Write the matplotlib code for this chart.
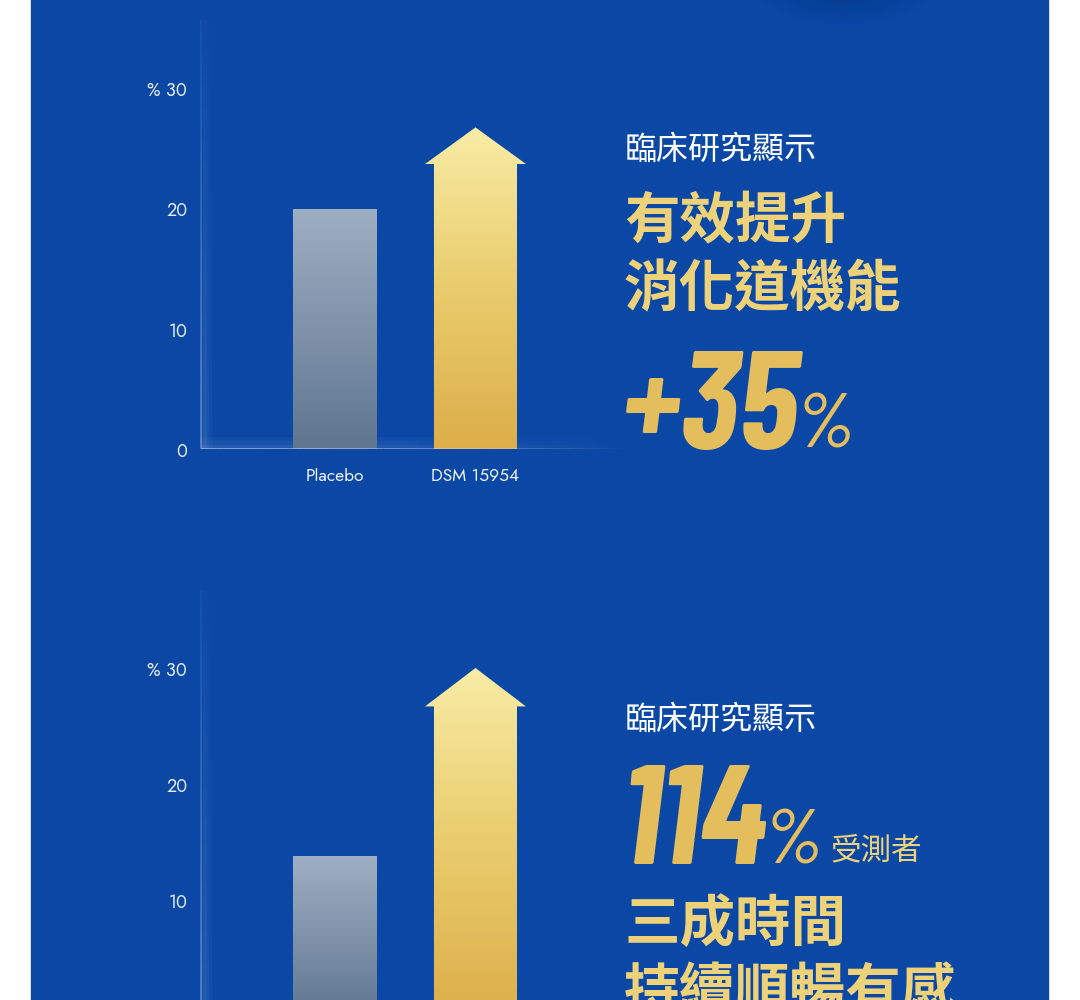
import numpy as np
import matplotlib.pyplot as plt
from matplotlib.patches import Rectangle, Polygon, Ellipse
from matplotlib.colors import LinearSegmentedColormap
from matplotlib.collections import LineCollection

plt.rcParams['font.family'] = ['Noto Sans CJK TC', 'DejaVu Sans']

# ---------------------------------------------------------------------------
# Daten
# ---------------------------------------------------------------------------
categories = ['Placebo', 'DSM 15954']
chart1_placebo = 20.0
chart1_dsm = 23.75      # Pfeilschaft
chart1_dsm_tip = 26.8   # Pfeilspitze
chart2_placebo = 13.9
chart2_dsm = 26.7
chart2_dsm_tip = 30.0
y_ticks = [0, 10, 20, 30]
y_ticklabels = ['0', '10', '20', '% 30']

BLUE = '#0b48a6'
W, H = 1080, 1000

fig = plt.figure(figsize=(W / 100, H / 100), dpi=100)
fig.patch.set_facecolor('white')

# Hintergrund-Panel (Pixelkoordinaten)
bg = fig.add_axes([0, 0, 1, 1])
bg.set_xlim(0, W)
bg.set_ylim(H, 0)
bg.axis('off')
bg.add_patch(Rectangle((31, 0), 1017, H, color=BLUE, zorder=0))
# dunkler Schatten oben rechts
for r, a in zip(np.linspace(80, 15, 12), np.linspace(0.02, 0.07, 12)):
    bg.add_patch(Ellipse((845, -8), 2.2 * r, 0.9 * r, color='#06307e', alpha=a, lw=0, zorder=1))

grey_cmap = LinearSegmentedColormap.from_list('grey', ['#5f7590', '#9fafc3'])
gold_cmap = LinearSegmentedColormap.from_list('gold', ['#dcae4a', '#e9cc6c', '#f8eca6'])

TICKFONT = ['Jost', 'Lato', 'DejaVu Sans']


def px_axes(left, top, right, bottom):
    return fig.add_axes([left / W, 1 - bottom / H, (right - left) / W, (bottom - top) / H])


def draw_chart(ax, placebo, dsm, dsm_tip, ylim, show_xlabels):
    ax.set_facecolor('none')
    for s in ax.spines.values():
        s.set_visible(False)
    ticks = [t for t in y_ticks if ylim[0] <= t <= ylim[1]]
    labels = [l for t, l in zip(y_ticks, y_ticklabels) if ylim[0] <= t <= ylim[1]]
    ax.set_yticks(ticks)
    ax.set_yticklabels(labels, family=TICKFONT)
    ax.tick_params(axis='y', length=0, pad=10, labelsize=13, labelcolor='#e6ecf7')
    if show_xlabels:
        ax.set_xticks([0, 1])
        ax.set_xticklabels(categories, family=TICKFONT)
        ax.tick_params(axis='x', length=0, pad=14, labelsize=12.5, labelcolor='#eef2fa')
    else:
        ax.set_xticks([])

    bw = 0.589
    hw = 0.716
    grad = np.linspace(0, 1, 256).reshape(-1, 1)
    # Placebo-Balken mit Verlauf
    rect = Rectangle((0 - bw / 2, 0), bw, placebo, facecolor='none', edgecolor='none')
    ax.add_patch(rect)
    im = ax.imshow(grad, cmap=grey_cmap, aspect='auto', origin='lower',
                   extent=[-bw / 2, bw / 2, 0, placebo], zorder=3)
    im.set_clip_path(rect)

    # DSM-Pfeil mit Verlauf
    arrow = Polygon([(1 - bw / 2, 0), (1 - bw / 2, dsm), (1 - hw / 2, dsm), (1, dsm_tip),
                     (1 + hw / 2, dsm), (1 + bw / 2, dsm), (1 + bw / 2, 0)],
                    closed=True, facecolor='none', edgecolor='none')
    ax.add_patch(arrow)
    im2 = ax.imshow(grad, cmap=gold_cmap, aspect='auto', origin='lower',
                    extent=[1 - hw / 2, 1 + hw / 2, 0, dsm_tip], zorder=3)
    im2.set_clip_path(arrow)
    ax.set_xlim(-0.947, 2.096)
    ax.set_ylim(*ylim)

    # Achsen mit Glanz
    x0, x1 = ax.get_xlim()
    ytop = ylim[1]
    ys = np.linspace(0, ytop, 40)
    vsegs = [[(x0, ys[i]), (x0, ys[i + 1])] for i in range(len(ys) - 1)]
    va = np.linspace(1, 0.15, len(vsegs))
    ax.add_collection(LineCollection(vsegs, colors=[(0.62, 0.72, 0.9, 0.55 * a) for a in va],
                                     linewidths=1.2, zorder=2, clip_on=False))
    for lw, a in [(10, 0.035), (6, 0.05), (3, 0.07)]:
        ax.add_collection(LineCollection([[(x0 + 0.03, ys[i]), (x0 + 0.03, ys[i + 1])]
                                          for i in range(len(ys) - 1)],
                                         colors=[(0.75, 0.82, 0.95, a * v) for v in va],
                                         linewidths=lw, zorder=2))
    xs = np.linspace(x0, x1, 60)
    segs = [[(xs[i], 0), (xs[i + 1], 0)] for i in range(len(xs) - 1)]
    alphas = np.clip(1.0 - np.linspace(0, 1, len(segs)) ** 2, 0, 1)
    ax.add_collection(LineCollection(segs, colors=[(0.82, 0.87, 0.96, 0.7 * a) for a in alphas],
                                     linewidths=1.8, zorder=4))
    for off, lw, a in [(0.45, 10, 0.04), (0.3, 6, 0.05), (0.15, 3, 0.07)]:
        gsegs = [[(xs[i], off), (xs[i + 1], off)] for i in range(len(xs) - 1)]
        ax.add_collection(LineCollection(gsegs, colors=[(0.75, 0.82, 0.95, a * v) for v in alphas],
                                         linewidths=lw, zorder=2))


# Diagramm 1
ax1 = px_axes(201, 20, 630, 449)
draw_chart(ax1, chart1_placebo, chart1_dsm, chart1_dsm_tip, (0, (449 - 20) / 12.0), True)

# Diagramm 2
ax2 = px_axes(201, 590, 630, 1000)
s2 = 11.65
draw_chart(ax2, chart2_placebo, chart2_dsm, chart2_dsm_tip,
           ((1017.5 - 1000) / s2, (1017.5 - 590) / s2), False)

# ---------------------------------------------------------------------------
# Texte
# ---------------------------------------------------------------------------
GOLD = '#eed27a'
GOLD_DARK = '#e4be5c'
NUM = ['Barlow Condensed', 'Roboto', 'DejaVu Sans']
renderer = fig.canvas.get_renderer()


def right_px(t):
    bb = t.get_window_extent(renderer=renderer)
    return bb.x1


bg.text(625, 150, '臨床研究顯示', color='white', fontsize=23, va='center', ha='left', zorder=5)
bg.text(624, 222, '有效提升', color=GOLD, fontsize=40, fontweight='bold', va='center', ha='left', zorder=5)
bg.text(624, 290, '消化道機能', color=GOLD, fontsize=40, fontweight='bold', va='center', ha='left', zorder=5)
t35 = bg.text(621, 449, '+35', color=GOLD_DARK, fontsize=100, fontweight='bold', style='italic',
              family=NUM, va='baseline', ha='left', zorder=5)
bg.text(right_px(t35) - 2, 447, '%', color=GOLD_DARK, fontsize=56, fontweight='medium', style='italic',
        family=NUM, va='baseline', ha='left', zorder=5)

bg.text(625, 720, '臨床研究顯示', color='white', fontsize=23, va='center', ha='left', zorder=5)
t114 = bg.text(621, 864, '114', color=GOLD_DARK, fontsize=102, fontweight='bold', style='italic',
               family=NUM, va='baseline', ha='left', zorder=5)
tp = bg.text(right_px(t114) - 2, 864, '%', color=GOLD_DARK, fontsize=56, fontweight='medium', style='italic',
             family=NUM, va='baseline', ha='left', zorder=5)
bg.text(right_px(tp) + 8, 851, '受測者', color=GOLD, fontsize=22, va='center', ha='left', zorder=5)
bg.text(624, 925, '三成時間', color=GOLD, fontsize=40, fontweight='bold', va='center', ha='left', zorder=5)
bg.text(624, 993, '持續順暢有感', color=GOLD, fontsize=40, fontweight='bold', va='center', ha='left', zorder=5)

fig.savefig('out.png', dpi=100, facecolor=fig.get_facecolor())
